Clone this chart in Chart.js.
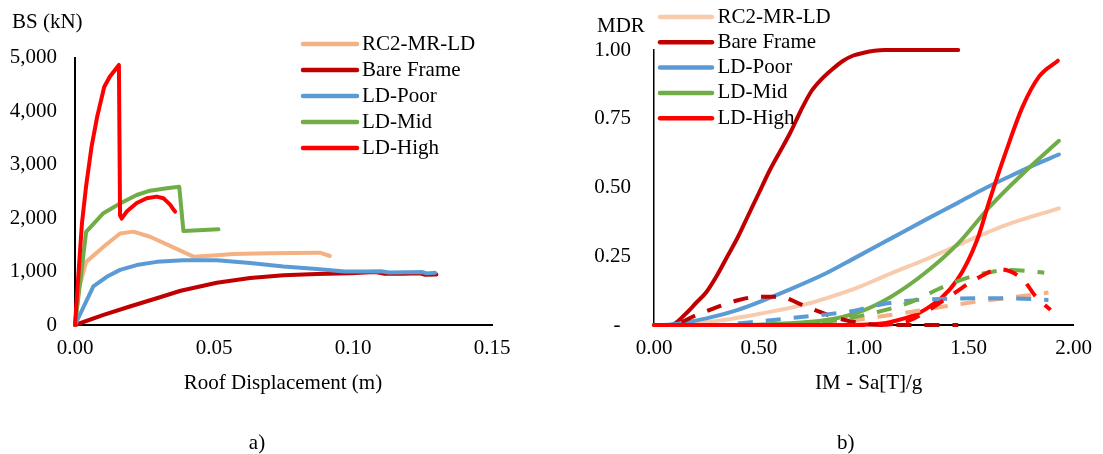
<!DOCTYPE html>
<html>
<head>
<meta charset="utf-8">
<title>Pushover and MDR curves</title>
<script src="https://cdn.jsdelivr.net/npm/chart.js@4.4.1/dist/chart.umd.min.js"></script>
<style>
  body { margin: 0; background: #fff; }
  #wrap { position: relative; width: 1103px; height: 454px; }
  canvas { position: absolute; top: 0; }
  #pushover { left: 0; }
  #vuln { left: 540px; }
</style>
</head>
<body>
<div id="wrap">
  <canvas id="pushover" width="540" height="454"></canvas>
  <canvas id="vuln" width="563" height="454"></canvas>
</div>
<script>
// a) pushover curves: roof displacement (m) vs base shear (kN)
const dispRC2 = [0, 0.0015, 0.004, 0.0102, 0.0162, 0.021, 0.027, 0.0342, 0.0426, 0.051, 0.0569, 0.07, 0.0881, 0.0917];
const bsRC2   = [0, 700, 1180, 1460, 1710, 1745, 1650, 1480, 1277, 1305, 1327, 1340, 1351, 1290];

const dispBare = [0, 0.01, 0.02, 0.03, 0.038, 0.051, 0.063, 0.075, 0.087, 0.099, 0.108, 0.111, 0.118, 0.124, 0.126, 0.13];
const bsBare   = [0, 185, 350, 510, 640, 790, 880, 930, 955, 965, 990, 960, 960, 965, 940, 945];

const dispPoor = [0, 0.0066, 0.0114, 0.0162, 0.0222, 0.0294, 0.039, 0.051, 0.063, 0.075, 0.087, 0.097, 0.105, 0.11, 0.113, 0.12, 0.125, 0.1265, 0.1295];
const bsPoor   = [0, 720, 900, 1030, 1120, 1180, 1210, 1210, 1160, 1095, 1045, 1000, 1000, 1005, 980, 985, 990, 965, 975];

const dispMid = [0, 0.004, 0.0102, 0.0162, 0.0222, 0.027, 0.033, 0.0375, 0.039, 0.0516];
const bsMid   = [0, 1740, 2090, 2270, 2430, 2510, 2555, 2585, 1755, 1790];

const dispHigh = [0, 0.0015, 0.0025, 0.004, 0.006, 0.008, 0.0105, 0.0125, 0.0158, 0.0162, 0.0168, 0.0186, 0.0222, 0.0258, 0.0294, 0.0318, 0.033, 0.0342, 0.0354, 0.036];
const bsHigh   = [0, 1150, 1900, 2600, 3350, 3900, 4450, 4640, 4860, 2050, 1990, 2120, 2280, 2370, 2400, 2370, 2310, 2250, 2160, 2120];

const dispTicks = [0, 0.05, 0.1, 0.15];
const bsTicks = [0, 1000, 2000, 3000, 4000, 5000];

// b) mean damage ratio vs intensity measure, solid + dashed curves
const imRC2   = [0, 0.1, 0.3, 0.45, 0.6, 0.72, 0.82, 0.96, 1.13, 1.3, 1.45, 1.68, 1.93];
const mdrRC2  = [0, 0, 0.015, 0.033, 0.055, 0.075, 0.097, 0.133, 0.188, 0.24, 0.291, 0.364, 0.424];
const imBare  = [0, 0.08, 0.15, 0.2, 0.25, 0.3, 0.35, 0.4, 0.45, 0.5, 0.55, 0.6, 0.65, 0.7, 0.75, 0.8, 0.85, 0.9, 0.95, 1.0, 1.05, 1.1, 1.2, 1.45];
const mdrBare = [0, 0, 0.04, 0.08, 0.12, 0.18, 0.25, 0.32, 0.4, 0.48, 0.56, 0.63, 0.70, 0.78, 0.85, 0.895, 0.93, 0.96, 0.98, 0.99, 0.997, 1.0, 1.0, 1.0];
const imPoor  = [0, 0.08, 0.25, 0.4, 0.64, 0.82, 0.96, 1.13, 1.3, 1.45, 1.56, 1.68, 1.8, 1.93];
const mdrPoor = [0, 0.002, 0.024, 0.055, 0.127, 0.188, 0.245, 0.315, 0.385, 0.445, 0.49, 0.535, 0.578, 0.62];
const imMid   = [0, 0.4, 0.6, 0.82, 0.98, 1.13, 1.29, 1.45, 1.6, 1.76, 1.93];
const mdrMid  = [0, 0, 0.005, 0.018, 0.048, 0.103, 0.188, 0.297, 0.43, 0.552, 0.67];
const imHigh  = [0, 0.9, 1.05, 1.134, 1.29, 1.445, 1.54, 1.6, 1.68, 1.757, 1.835, 1.925];
const mdrHigh = [0, 0, 0.003, 0.012, 0.055, 0.164, 0.309, 0.455, 0.636, 0.794, 0.903, 0.961];

const imRC2Sd   = [0, 0.6, 0.9, 1.07, 1.23, 1.38, 1.54, 1.7, 1.88];
const mdrRC2Sd  = [0, 0, 0.012, 0.03, 0.048, 0.067, 0.085, 0.1, 0.118];
const imBareSd  = [0, 0.08, 0.2, 0.3, 0.4, 0.5, 0.6, 0.7, 0.8, 0.9, 1.0, 1.1, 1.45];
const mdrBareSd = [0, 0, 0.035, 0.065, 0.09, 0.103, 0.103, 0.075, 0.045, 0.02, 0.005, 0, 0];
const imPoorSd  = [0, 0.3, 0.48, 0.64, 0.79, 0.95, 1.07, 1.2, 1.3, 1.54, 1.7, 1.88];
const mdrPoorSd = [0, 0, 0.012, 0.024, 0.036, 0.051, 0.073, 0.087, 0.093, 0.097, 0.097, 0.091];
const imMidSd   = [0, 0.6, 0.75, 0.92, 1.07, 1.23, 1.38, 1.54, 1.7, 1.86];
const mdrMidSd  = [0, 0, 0.006, 0.024, 0.048, 0.085, 0.139, 0.182, 0.2, 0.19];
const imHighSd  = [0, 1.0, 1.2, 1.3, 1.43, 1.54, 1.65, 1.76, 1.82, 1.89];
const mdrHighSd = [0, 0, 0.012, 0.05, 0.115, 0.17, 0.203, 0.164, 0.103, 0.055];

const imTicks = [0, 0.5, 1.0, 1.5, 2.0];
const mdrTicks = [0, 0.25, 0.5, 0.75, 1.0];

const COLORS = {
    rc2: '#F4B183',
    rc2Light: '#F8CBAD',
    bare: '#C00000',
    poor: '#5B9BD5',
    mid: '#70AD47',
    high: '#FF0000'
};
const FAMILY = '"Liberation Serif", "Times New Roman", serif';
const FONT = { family: FAMILY, size: 21 };

const pts = (xs, ys) => xs.map((x, i) => ({ x, y: ys[i] }));

const series = (label, xs, ys, color, dashed = false) => ({
    label,
    data: pts(xs, ys),
    borderColor: color,
    backgroundColor: color,
    borderWidth: 4,
    pointRadius: 0,
    pointHoverRadius: 0,
    fill: false,
    clip: 8,
    borderDash: dashed ? [15, 13] : [],
    borderCapStyle: dashed ? 'butt' : 'round',
    borderJoinStyle: 'round',
    inLegend: !dashed
});

// later series drawn on top, like the spreadsheet plot
const stack = (list) => {
    list.forEach((d, i) => { d.order = list.length - i; });
    return list;
};

// free text: axis units, titles, panel letters
const textPlugin = (items) => ({
    id: 'freeText',
    afterDraw(chart) {
        const ctx = chart.ctx;
        ctx.save();
        ctx.fillStyle = '#000';
        ctx.font = `21px ${FAMILY}`;
        ctx.textBaseline = 'middle';
        items.forEach(t => {
            ctx.textAlign = t.align || 'center';
            ctx.fillText(t.text, t.x, t.y);
        });
        ctx.restore();
    }
});

// legend: solid series only, line sample + label
const legendPlugin = (x0, x1, xText, y0, dy) => ({
    id: 'sideLegend',
    afterDraw(chart) {
        const ctx = chart.ctx;
        ctx.save();
        ctx.font = `21px ${FAMILY}`;
        ctx.textBaseline = 'middle';
        ctx.textAlign = 'left';
        let y = y0;
        chart.data.datasets.filter(d => d.inLegend).forEach(d => {
            ctx.strokeStyle = d.borderColor;
            ctx.lineWidth = 4.5;
            ctx.lineCap = 'round';
            ctx.beginPath();
            ctx.moveTo(x0, y);
            ctx.lineTo(x1, y);
            ctx.stroke();
            ctx.fillStyle = '#000';
            ctx.fillText(d.label, xText, y);
            y += dy;
        });
        ctx.restore();
    }
});

const axis = (min, max, tickList, fmt, fit, pad, borderW) => ({
    type: 'linear',
    min, max,
    afterBuildTicks: s => { s.ticks = tickList.map(v => ({ value: v })); },
    afterFit: fit,
    ticks: { callback: fmt, font: FONT, color: '#000', padding: pad, autoSkip: false, maxRotation: 0 },
    grid: { display: false, drawTicks: false, tickLength: 0 },
    border: { display: true, color: '#000', width: borderW }
});

const baseOptions = {
    responsive: false,
    animation: false,
    events: [],
    plugins: { legend: { display: false }, tooltip: { enabled: false } }
};

// a) pushover
new Chart(document.getElementById('pushover'), {
    type: 'line',
    data: {
        datasets: stack([
            series('RC2-MR-LD', dispRC2, bsRC2, COLORS.rc2),
            series('Bare Frame', dispBare, bsBare, COLORS.bare),
            series('LD-Poor', dispPoor, bsPoor, COLORS.poor),
            series('LD-Mid', dispMid, bsMid, COLORS.mid),
            series('LD-High', dispHigh, bsHigh, COLORS.high)
        ])
    },
    options: {
        ...baseOptions,
        layout: { padding: { left: 0, top: 57.5, right: 48, bottom: 0 } },
        elements: { line: { tension: 0 } },
        scales: {
            x: axis(0, 0.15, dispTicks, v => v.toFixed(2), s => { s.height = 129; }, 11, 2),
            y: axis(0, 5000, bsTicks, v => v.toLocaleString('en-US'), s => { s.width = 75; }, 18, 2)
        }
    },
    plugins: [
        legendPlugin(303, 357, 362, 44, 26),
        textPlugin([
            { text: 'BS (kN)', x: 12, y: 22, align: 'left' },
            { text: 'Roof Displacement (m)', x: 283, y: 383 },
            { text: 'a)', x: 257, y: 443 }
        ])
    ]
});

// b) MDR vs IM
new Chart(document.getElementById('vuln'), {
    type: 'line',
    data: {
        datasets: stack([
            series('RC2-MR-LD', imRC2, mdrRC2, COLORS.rc2Light),
            series('Bare Frame', imBare, mdrBare, COLORS.bare),
            series('LD-Poor', imPoor, mdrPoor, COLORS.poor),
            series('LD-Mid', imMid, mdrMid, COLORS.mid),
            series('LD-High', imHigh, mdrHigh, COLORS.high),
            series('RC2-MR-LD', imRC2Sd, mdrRC2Sd, COLORS.rc2, true),
            series('Bare Frame', imBareSd, mdrBareSd, COLORS.bare, true),
            series('LD-Poor', imPoorSd, mdrPoorSd, COLORS.poor, true),
            series('LD-Mid', imMidSd, mdrMidSd, COLORS.mid, true),
            series('LD-High', imHighSd, mdrHighSd, COLORS.high, true)
        ])
    },
    options: {
        ...baseOptions,
        layout: { padding: { left: 0, top: 50, right: 21, bottom: 0 } },
        elements: { line: { cubicInterpolationMode: 'monotone' } },
        scales: {
            x: axis(0, 2, imTicks, v => v.toFixed(2), s => { s.height = 129; }, 11, 2),
            y: axis(0, 1, mdrTicks, v => (v === 0 ? '-  ' : v.toFixed(2)), s => { s.width = 114; }, 23, 1.5)
        }
    },
    plugins: [
        legendPlugin(120, 172, 177.5, 17, 25.3),
        textPlugin([
            { text: 'MDR', x: 57, y: 26, align: 'left' },
            { text: 'IM - Sa[T]/g', x: 328.7, y: 383 },
            { text: 'b)', x: 305.7, y: 443 }
        ])
    ]
});
</script>
</body>
</html>
